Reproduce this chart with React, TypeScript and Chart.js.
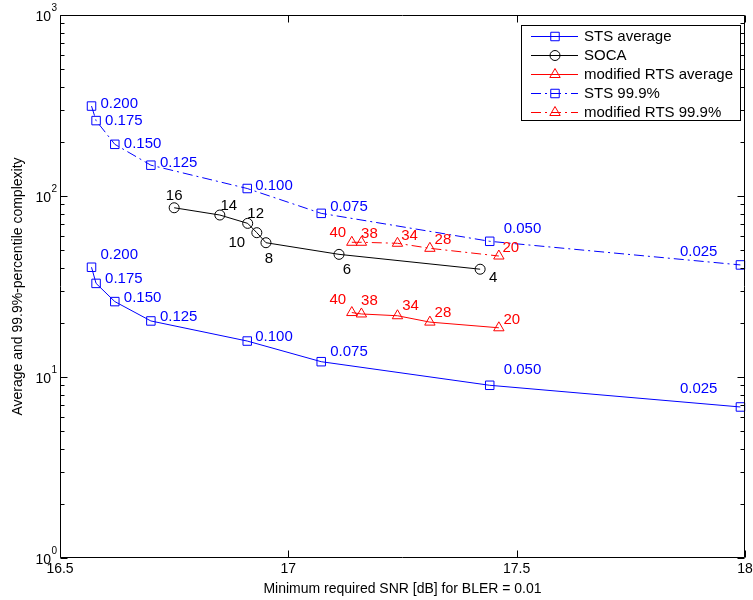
import React, { useEffect, useRef } from 'react';
import { Chart, registerables } from 'chart.js';

Chart.register(...registerables);

// ---- data ----
const stsSnr = [16.569, 16.579, 16.62, 16.699, 16.91, 17.072, 17.441, 17.99];
const stsAverage = [40.4, 32.9, 26.1, 20.4, 15.8, 12.15, 9.0, 6.83];
const sts999 = [314, 261, 193, 148, 110, 80.2, 56.2, 41.6];
const stsLabels = ['0.200', '0.175', '0.150', '0.125', '0.100', '0.075', '0.050', '0.025'];

const socaSnr = [16.75, 16.85, 16.911, 16.931, 16.951, 17.111, 17.42];
const socaComplexity = [86.1, 78.5, 70.6, 62.7, 55.2, 47.6, 39.4];
const socaLabels = ['16', '14', '12', '10', '8', '6', '4'];

const rtsSnr = [17.139, 17.16, 17.239, 17.31, 17.461];
const rtsAverage = [22.7, 22.3, 21.8, 20.1, 18.7];
const rts999 = [55.5, 55.5, 54.8, 51.4, 46.6];
const rtsLabels = ['40', '38', '34', '28', '20'];

const xTicks = [16.5, 17, 17.5, 18];
const yDecades = [1, 10, 100, 1000];
const yExponents = ['0', '1', '2', '3'];

const xTitle = 'Minimum required SNR [dB] for BLER = 0.01';
const yTitle = 'Average and 99.9%-percentile complexity';

// ---- style ----
const FONT = '"Liberation Sans", Arial, Helvetica, sans-serif';
const BLUE = '#0000ff';
const RED = '#ff0000';
const BLACK = '#000000';
const DASHDOT = [10, 4, 2, 4];

type Off = [number, number, string?];
const labelSpecs: { ds: number; texts: string[]; color: string; align: CanvasTextAlign; offsets: Off[] }[] = [
  {
    ds: 0, texts: stsLabels, color: BLUE, align: 'left',
    offsets: [[9, -12], [9, -5], [9, -4], [9, -4], [8, -4], [9, -10], [14, -15], [-23, -18, 'right']],
  },
  {
    ds: 3, texts: stsLabels, color: BLUE, align: 'left',
    offsets: [[9, -2], [9, 0], [9, 0], [9, -2], [8, -3], [9, -6], [14, -12], [-23, -13, 'right']],
  },
  {
    ds: 1, texts: socaLabels, color: BLACK, align: 'center',
    offsets: [[0, -12], [9, -9], [8, -10], [-20, 10], [3, 16], [8, 16], [13, 9]],
  },
  {
    ds: 2, texts: rtsLabels, color: RED, align: 'center',
    offsets: [[-14, -13], [8, -13], [13, -10], [13, -9], [13, -8]],
  },
  {
    ds: 4, texts: rtsLabels, color: RED, align: 'center',
    offsets: [[-14, -9], [8, -8], [12, -7], [13, -8], [12, -8]],
  },
];

function drawMarker(ctx: CanvasRenderingContext2D, style: string, x: number, y: number, r: number, color: string) {
  ctx.save();
  ctx.strokeStyle = color;
  ctx.lineWidth = 1;
  ctx.setLineDash([]);
  ctx.beginPath();
  if (style === 'rect') {
    const s = r * Math.SQRT1_2;
    ctx.rect(x - s, y - s, 2 * s, 2 * s);
  } else if (style === 'circle') {
    ctx.arc(x, y, r, 0, Math.PI * 2);
  } else {
    const a = (2 * Math.PI) / 3;
    ctx.moveTo(x, y - r);
    ctx.lineTo(x + r * Math.sin(a), y - r * Math.cos(a));
    ctx.lineTo(x + r * Math.sin(2 * a), y - r * Math.cos(2 * a));
    ctx.closePath();
  }
  ctx.stroke();
  ctx.restore();
}

const framePlugin = {
  id: 'matlabFrame',
  afterDraw(chart: any) {
    const ctx: CanvasRenderingContext2D = chart.ctx;
    const { left, right, top, bottom } = chart.chartArea;
    const xs = chart.scales.x;
    const ys = chart.scales.y;
    ctx.save();

    // data labels
    ctx.textBaseline = 'middle';
    ctx.font = `15px ${FONT}`;
    labelSpecs.forEach((spec) => {
      const meta = chart.getDatasetMeta(spec.ds);
      ctx.fillStyle = spec.color;
      meta.data.forEach((el: any, j: number) => {
        const o = spec.offsets[j];
        ctx.textAlign = (o[2] as CanvasTextAlign) || spec.align;
        ctx.fillText(spec.texts[j], el.x + o[0], el.y + o[1]);
      });
    });

    // axes box
    const L = Math.round(left) + 0.5;
    const R = Math.round(right) - 0.5;
    const T = Math.round(top) + 0.5;
    const B = Math.round(bottom) - 0.5;
    ctx.strokeStyle = BLACK;
    ctx.lineWidth = 1;
    ctx.setLineDash([]);
    ctx.beginPath();
    ctx.rect(L, T, R - L, B - T);
    ctx.stroke();

    // y ticks (log)
    ctx.beginPath();
    yDecades.forEach((d, i) => {
      const py = Math.round(ys.getPixelForValue(d)) + 0.5;
      ctx.moveTo(L, py); ctx.lineTo(L + 7, py);
      ctx.moveTo(R, py); ctx.lineTo(R - 7, py);
      if (i < yDecades.length - 1) {
        for (let k = 2; k <= 9; k++) {
          const pm = Math.round(ys.getPixelForValue(k * d)) + 0.5;
          ctx.moveTo(L, pm); ctx.lineTo(L + 4, pm);
          ctx.moveTo(R, pm); ctx.lineTo(R - 4, pm);
        }
      }
    });
    // x ticks
    xTicks.forEach((v) => {
      const px = Math.round(xs.getPixelForValue(v)) + 0.5;
      ctx.moveTo(px, B); ctx.lineTo(px, B - 7);
      ctx.moveTo(px, T); ctx.lineTo(px, T + 7);
    });
    ctx.stroke();

    // tick labels
    ctx.fillStyle = BLACK;
    ctx.textBaseline = 'middle';
    yDecades.forEach((d, i) => {
      const py = ys.getPixelForValue(d);
      ctx.font = `14px ${FONT}`;
      ctx.textAlign = 'right';
      ctx.fillText('10', 51, py + 2);
      ctx.font = `10px ${FONT}`;
      ctx.textAlign = 'left';
      ctx.fillText(yExponents[i], 51.5, py - 7);
    });
    ctx.font = `14px ${FONT}`;
    ctx.textAlign = 'center';
    xTicks.forEach((v) => {
      ctx.fillText(String(v), xs.getPixelForValue(v), 569);
    });

    // axis titles
    ctx.fillText(xTitle, (left + right) / 2, 589);
    ctx.save();
    ctx.translate(18, (top + bottom) / 2);
    ctx.rotate(-Math.PI / 2);
    ctx.fillText(yTitle, 0, 0);
    ctx.restore();

    // legend
    const bx = 521.5, by = 25.5, bw = 219, bh = 95;
    ctx.fillStyle = '#ffffff';
    ctx.fillRect(bx, by, bw, bh);
    ctx.strokeStyle = BLACK;
    ctx.lineWidth = 1;
    ctx.strokeRect(bx, by, bw, bh);
    const order = [0, 1, 2, 3, 4];
    ctx.font = `15px ${FONT}`;
    ctx.textAlign = 'left';
    order.forEach((di, i) => {
      const ds = chart.data.datasets[di];
      const y = Math.round(36 + 19 * i) + 0.5;
      ctx.save();
      ctx.strokeStyle = ds.borderColor;
      ctx.lineWidth = 1;
      ctx.setLineDash(ds.borderDash || []);
      ctx.beginPath();
      ctx.moveTo(531, y);
      ctx.lineTo(578, y);
      ctx.stroke();
      ctx.restore();
      drawMarker(ctx, ds.pointStyle, 555, y, ds.pointRadius, ds.borderColor);
      ctx.fillStyle = BLACK;
      ctx.fillText(ds.label, 584, y);
    });

    ctx.restore();
  },
};

function series(xs: number[], ys: number[]) {
  return xs.map((x, i) => ({ x, y: ys[i] }));
}

export default function App() {
  const ref = useRef<HTMLCanvasElement | null>(null);
  useEffect(() => {
    if (!ref.current) return;
    const common = {
      borderWidth: 1,
      pointBorderWidth: 1,
      pointBackgroundColor: 'rgba(0,0,0,0)',
      tension: 0,
      clip: false as any,
      fill: false,
    };
    const chart = new Chart(ref.current, {
      type: 'line',
      data: {
        datasets: [
          { ...common, label: 'STS average', data: series(stsSnr, stsAverage), borderColor: BLUE, pointBorderColor: BLUE, pointStyle: 'rect', pointRadius: 6 },
          { ...common, label: 'SOCA', data: series(socaSnr, socaComplexity), borderColor: BLACK, pointBorderColor: BLACK, pointStyle: 'circle', pointRadius: 5 },
          { ...common, label: 'modified RTS average', data: series(rtsSnr, rtsAverage), borderColor: RED, pointBorderColor: RED, pointStyle: 'triangle', pointRadius: 6 },
          { ...common, label: 'STS 99.9%', data: series(stsSnr, sts999), borderColor: BLUE, pointBorderColor: BLUE, pointStyle: 'rect', pointRadius: 6, borderDash: DASHDOT },
          { ...common, label: 'modified RTS 99.9%', data: series(rtsSnr, rts999), borderColor: RED, pointBorderColor: RED, pointStyle: 'triangle', pointRadius: 6, borderDash: DASHDOT },
        ] as any,
      },
      options: {
        animation: false,
        responsive: false,
        devicePixelRatio: 1,
        layout: { padding: { left: 60, right: 8, top: 15, bottom: 42 } },
        plugins: { legend: { display: false }, tooltip: { enabled: false } },
        scales: {
          x: { type: 'linear', min: 16.5, max: 18, display: false },
          y: { type: 'logarithmic', min: 1, max: 1000, display: false },
        },
      },
      plugins: [framePlugin],
    });
    return () => chart.destroy();
  }, []);
  return (
    <div style={{ position: 'absolute', left: 0, top: 0, width: 753, height: 600, background: '#fff' }}>
      <canvas ref={ref} width={753} height={600} style={{ display: 'block' }} />
    </div>
  );
}
